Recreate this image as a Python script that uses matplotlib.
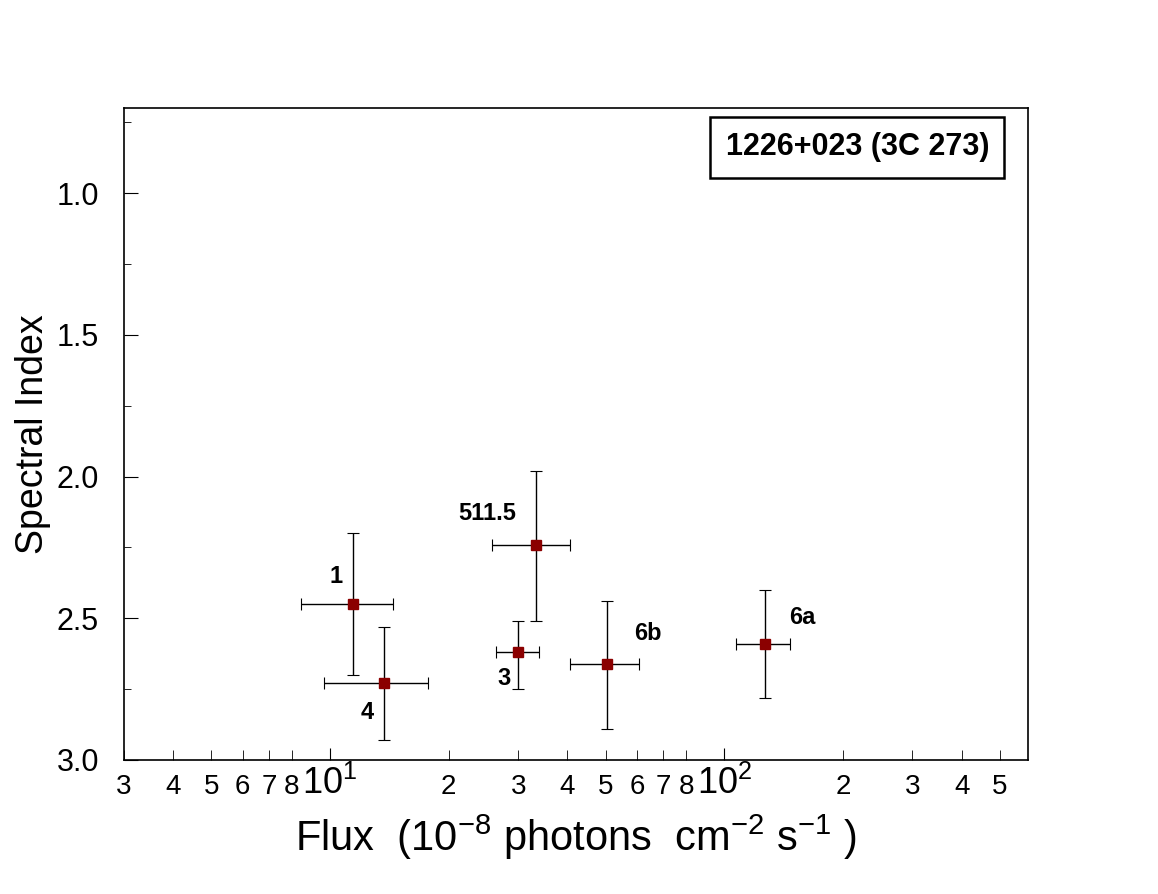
import math
import matplotlib
matplotlib.use("Agg")
import matplotlib.pyplot as plt
from matplotlib.ticker import FixedLocator, FuncFormatter

plt.rcParams['font.family'] = ['Liberation Sans', 'DejaVu Sans']
plt.rcParams['mathtext.fontset'] = 'custom'
plt.rcParams['mathtext.rm'] = 'Liberation Sans'

labels = ["1", "4", "511.5", "3", "6b", "6a"]
flux = [11.4, 13.7, 33.2, 29.9, 50.5, 127]
flux_lo = [8.45, 9.66, 25.8, 26.4, 40.5, 107]
flux_hi = [14.4, 17.7, 40.7, 33.8, 60.7, 147]
index = [2.45, 2.73, 2.24, 2.62, 2.66, 2.59]
index_lo = [2.20, 2.53, 1.98, 2.51, 2.44, 2.40]
index_hi = [2.70, 2.93, 2.51, 2.75, 2.89, 2.78]
label_offsets = [(-12, 20), (-12, -21), (-35, 22), (-10, -19), (29, 22), (27, 19)]

fig = plt.figure(figsize=(11.58, 8.94), dpi=100)
ax = fig.add_axes([0.107, 0.150, 0.781, 0.729])
xerr = [[f - l for f, l in zip(flux, flux_lo)], [h - f for f, h in zip(flux, flux_hi)]]
yerr = [[i - l for i, l in zip(index, index_lo)], [h - i for i, h in zip(index, index_hi)]]
ax.errorbar(flux, index, xerr=xerr, yerr=yerr, fmt='s', color='black', mfc='#8b0000',
            mec='#8b0000', ms=7, elinewidth=1, capsize=4, capthick=0.8)
for x, y, t, (dx, dy) in zip(flux, index, labels, label_offsets):
    ax.annotate(t, (x, y), xytext=(dx, dy), textcoords='offset points',
                fontsize=17, fontweight='bold', ha='center', va='center')

ax.set_xscale('log')
ax.set_xlim(3.0, 590)
ax.set_ylim(3.0, 0.7)
ax.xaxis.set_major_locator(FixedLocator([10, 100]))
ax.xaxis.set_major_formatter(FuncFormatter(lambda v, p: r'$10^{%d}$' % round(math.log10(v))))
minors = [m * d for d in (1, 10, 100) for m in range(2, 9) if 3 <= m * d <= 590]
ax.xaxis.set_minor_locator(FixedLocator(minors))
ax.xaxis.set_minor_formatter(FuncFormatter(lambda v, p: '%d' % round(v / 10 ** math.floor(math.log10(v) + 1e-9))))
ax.set_yticks([1.0, 1.5, 2.0, 2.5, 3.0])
ax.set_yticks([0.75, 1.25, 1.75, 2.25, 2.75], minor=True)
ax.yaxis.set_major_formatter(FuncFormatter(lambda v, p: '%.1f' % v))
ax.tick_params(which='both', direction='in', labelsize=20)
ax.tick_params(axis='x', which='major', length=9, labelsize=26, pad=4)
ax.tick_params(axis='x', which='minor', length=7, pad=10)
ax.tick_params(axis='y', which='major', length=10, labelsize=22, pad=18)
ax.tick_params(axis='y', which='minor', length=5)
for s in ax.spines.values():
    s.set_linewidth(1.2)

ax.set_xlabel(r'Flux  (10$^{-8}$ photons  cm$^{-2}$ s$^{-1}$ )', fontsize=30, labelpad=8)
ax.set_ylabel('Spectral Index', fontsize=27)
ax.text(0.811, 0.94, '1226+023 (3C 273)', transform=ax.transAxes, fontsize=22,
        fontweight='bold', ha='center', va='center',
        bbox=dict(boxstyle='square,pad=0.5', fc='white', ec='black', lw=1.8))
fig.savefig('out.png', dpi=100)
